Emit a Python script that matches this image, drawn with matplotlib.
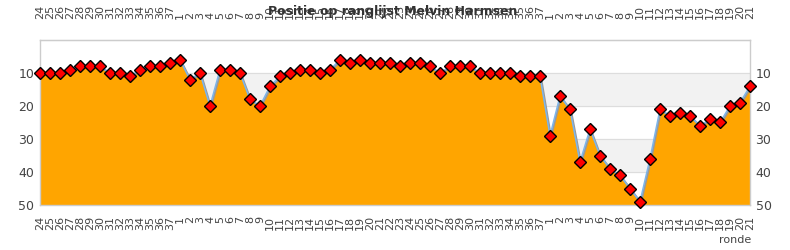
import matplotlib.pyplot as plt
import matplotlib.transforms as mtransforms

# round labels (week numbers) and ranking position per round
rounds = ['24', '25', '26', '27', '28', '29', '30', '31', '32', '33', '34', '35', '36', '37',
          '1', '2', '3', '4', '5', '6', '7', '8', '9', '10', '11', '12', '13', '14', '15', '16',
          '17', '18', '19', '20', '21', '22', '23', '24', '25', '26', '27', '28', '29', '30',
          '31', '32', '33', '34', '35', '36', '37',
          '1', '2', '3', '4', '5', '6', '7', '8', '9', '10', '11', '12', '13', '14', '15', '16',
          '17', '18', '19', '20', '21']
positions = [10, 10, 10, 9, 8, 8, 8, 10, 10, 11, 9, 8, 8, 7,
             6, 12, 10, 20, 9, 9, 10, 18, 20, 14, 11, 10, 9, 9, 10, 9,
             6, 7, 6, 7, 7, 7, 8, 7, 7, 8, 10, 8, 8, 8,
             10, 10, 10, 10, 11, 11, 11,
             29, 17, 21, 37, 27, 35, 39, 41, 45, 49, 36, 21, 23, 22, 23, 26,
             24, 25, 20, 19, 14]
y_ticks = [10, 20, 30, 40, 50]

x = list(range(len(rounds)))

fig = plt.figure(figsize=(7.9, 2.5), dpi=100)
ax = fig.add_axes([40/790, 45/250, 710/790, 165/250])

# alternating background bands
for lo, hi in [(10, 20), (30, 40)]:
    ax.axhspan(lo, hi, color='#f2f2f2', zorder=0)
for yv in [10, 20, 30, 40]:
    ax.axhline(yv, color='#dddddd', lw=0.8, zorder=0.5)

ax.fill_between(x, positions, 50, color='#ffa500', lw=0, zorder=1)

# grey shadow line then blue line
shadow = mtransforms.offset_copy(ax.transData, fig=fig, x=1, y=-1, units='dots')
ax.plot(x, positions, color='#999999', lw=1.4, transform=shadow, zorder=2)
ax.plot(x, positions, color='#7cb5ec', lw=1.1, zorder=3)
ax.plot(x, positions, ls='none', marker='D', markersize=6.3, markerfacecolor='#ff0000',
        markeredgecolor='black', markeredgewidth=1, zorder=4, clip_on=False)

ax.set_xlim(0, len(rounds) - 1)
ax.set_ylim(50, 0)
ax.set_xticks(x)
ax.set_xticklabels(rounds, rotation=90, fontsize=8, color='#444444')
ax.tick_params(axis='x', length=0, pad=8)

top = ax.secondary_xaxis('top')
top.set_xticks(x)
top.set_xticklabels(rounds, rotation=90, fontsize=8, color='#444444')
top.tick_params(axis='x', length=0, pad=15)
top.spines['top'].set_color('#cccccc')

ax.set_yticks(y_ticks)
ax.set_yticklabels([str(v) for v in y_ticks], fontsize=9, color='#444444')
ax.tick_params(axis='y', length=0, pad=4, left=True, right=True, labelleft=True, labelright=True)

for s in ax.spines.values():
    s.set_color('#cccccc')
    s.set_linewidth(1)

fig.text(393/790, 1 - 12/250, 'Positie op ranglijst Melvin Harmsen', ha='center', va='center',
         fontsize=9, fontweight='bold', color='#333333')
fig.text(735/790, 1 - 240/250, 'ronde', ha='center', va='center', fontsize=8, color='#444444')

fig.savefig('out.png', dpi=100)
